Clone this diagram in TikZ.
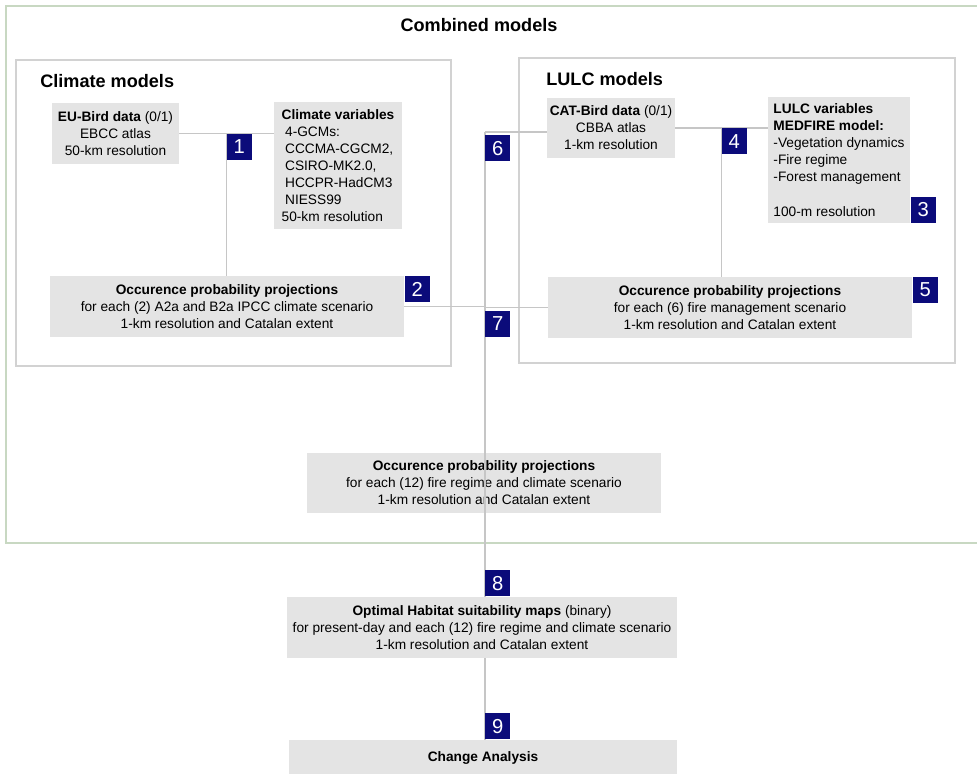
\documentclass[tikz,border=0pt]{standalone}
\usepackage{fontspec}
\setmainfont{Liberation Sans}
\usetikzlibrary{positioning,calc}
\definecolor{marknavy}{HTML}{0B0B7A}
\definecolor{boxgrey}{HTML}{E4E4E4}
\definecolor{linegrey}{HTML}{C6C6C6}
\definecolor{framegrey}{HTML}{D2D2D2}
\definecolor{framegreen}{HTML}{C8D8C2}
\begin{document}
\begin{tikzpicture}[x=0.02cm,y=-0.02cm,every node/.style={font=\fontsize{7.8}{9.7}\selectfont,align=center},box/.style={fill=boxgrey,inner sep=0pt},varbox/.style={fill=boxgrey,align=left,inner sep=0pt},num/.style={fill=marknavy,text=white,inner sep=0pt,minimum width=0.5cm,minimum height=0.52cm,font=\fontsize{11.5}{12}\selectfont},title/.style={inner sep=0pt,font=\fontsize{10.3}{12}\selectfont\bfseries},link/.style={draw=linegrey,line width=0.6pt}]
\useasboundingbox (0,0) rectangle (977,774);
% frames
\draw[framegreen,line width=0.9pt] (6,6) rectangle (995,543);
\draw[framegrey,line width=0.8pt] (16,60) rectangle (451,366);
\draw[framegrey,line width=0.8pt] (519,58) rectangle (955,363);
\node[title] (combtitle) at (479,25) {Combined models};
\node[title,anchor=west] (climtitle) at (40,81) {Climate models};
\node[title,anchor=west] (lulctitle) at (546,79) {LULC models};
% climate models
\node[box,minimum width=2.54cm,minimum height=1.22cm] (eubird) at (115.5,133.5) {\textbf{EU-Bird data} (0/1)\\ EBCC atlas\\ 50-km resolution};
\node[varbox,minimum width=2.56cm,minimum height=2.54cm] (climvar) at (338,165.5) {\textbf{Climate variables}\\ \kern2pt4-GCMs:\\ \kern2pt CCCMA-CGCM2,\\ \kern2pt CSIRO-MK2.0,\\ \kern2pt HCCPR-HadCM3\\ \kern2pt NIESS99\\ 50-km resolution};
\node[box,minimum width=7.08cm,minimum height=1.22cm] (occclim) at (227,306.5) {\textbf{Occurence probability projections}\\ for each (2) A2a and B2a IPCC climate scenario\\ 1-km resolution and Catalan extent};
% LULC models
\node[box,minimum width=2.56cm,minimum height=1.2cm] (catbird) at (611,128) {\textbf{CAT-Bird data} (0/1)\\ CBBA atlas\\ 1-km resolution};
\node[varbox,minimum width=2.84cm,minimum height=2.52cm] (lulcvar) at (839,160) {\textbf{LULC variables}\\ \textbf{MEDFIRE model:}\\ -Vegetation dynamics\\ -Fire regime\\ -Forest management\\[9.7pt] 100-m resolution};
\node[box,minimum width=7.28cm,minimum height=1.22cm] (occlulc) at (730,307.5) {\textbf{Occurence probability projections}\\ for each (6) fire management scenario\\ 1-km resolution and Catalan extent};
% combined
\node[box,minimum width=7.08cm,minimum height=1.2cm] (occcomb) at (484,483) {\textbf{Occurence probability projections}\\ for each (12) fire regime and climate scenario\\ 1-km resolution and Catalan extent};
\node[box,minimum width=7.8cm,minimum height=1.22cm] (habitat) at (482,627.5) {\textbf{Optimal Habitat suitability maps} (binary)\\ for present-day and each (12) fire regime and climate scenario\\ 1-km resolution and Catalan extent};
\node[box,minimum width=7.76cm,minimum height=0.7cm] (change) at (483,757.5) {\textbf{Change Analysis}};
% connectors
\coordinate (j1) at ($(eubird.east)!.5!(eubird.east -| climvar.west)$);
\coordinate (j4) at ($(catbird.east)!.5!(catbird.east -| lulcvar.west)$);
\coordinate (spine) at (485,132);
\draw[link] (eubird.east) -- (eubird.east -| climvar.west);
\draw[link] (j1) -- (j1 |- occclim.north);
\draw[link] (catbird.east) -- (catbird.east -| lulcvar.west);
\draw[link] (j4) -- (j4 |- occlulc.north);
\draw[link] (spine) -- (spine -| catbird.west);
\draw[link] (occclim.east) -- (occclim.east -| spine);
\draw[link] (occlulc.west) -- (occlulc.west -| spine);
\draw[link] (spine) -- (spine |- habitat.north);
\draw[link] (spine |- habitat.south) -- (spine |- change.north);
% step numbers
\node[num,anchor=north west] (m1) at (j1) {1};
\node[num,anchor=north west] (m2) at (occclim.north east) {2};
\node[num,anchor=south west] (m3) at (lulcvar.south east) {3};
\node[num,anchor=north west] (m4) at (j4) {4};
\node[num,anchor=north west] (m5) at (occlulc.north east) {5};
\node[num,anchor=north west] (m6) at ($(spine)+(0,3)$) {6};
\node[num,anchor=south west] (m7) at (spine |- occclim.south) {7};
\node[num,anchor=south west] (m8) at (spine |- habitat.north) {8};
\node[num,anchor=south west] (m9) at (spine |- change.north) {9};
\end{tikzpicture}
\end{document}
